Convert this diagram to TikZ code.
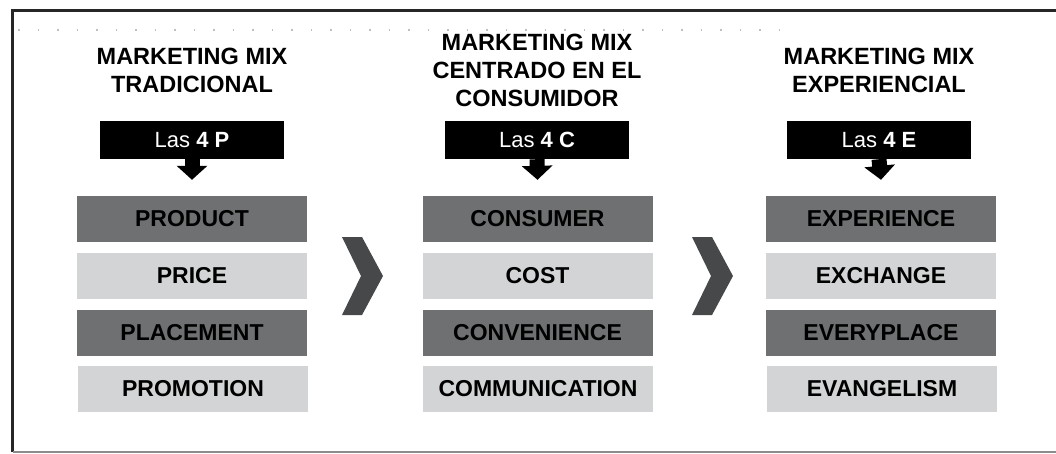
\documentclass[tikz,border=0pt]{standalone}
\usepackage{fontspec}
\setmainfont{Liberation Sans}
\usetikzlibrary{arrows.meta}
\definecolor{mixdark}{RGB}{110,112,114}
\definecolor{mixlight}{RGB}{211,212,213}
\definecolor{chevgray}{RGB}{70,72,74}
\tikzset{
	mixtitle/.style={align=center, font=\fontsize{23.5}{28}\selectfont\bfseries, inner sep=0pt},
	lasbox/.style={fill=black, text=white, minimum width=184pt, minimum height=38pt, inner sep=0pt, font=\fontsize{22}{26}\selectfont},
	itemdark/.style={fill=mixdark, minimum width=230pt, minimum height=46pt, inner sep=0pt, font=\fontsize{23}{27}\selectfont\bfseries},
	itemlight/.style={itemdark, fill=mixlight},
	downarrow/.style={line width=15pt, -{Triangle[width=30pt,length=14pt]}},
}
\begin{document}
\begin{tikzpicture}[x=1pt,y=-1pt]
		%%%%% FRAME %%%%%
		\useasboundingbox (0,0) rectangle (1056,453);
		\draw[line width=3.5pt, black!85] (12.5,451.5) -- (12.5,10.5) -- (1056,10.5);
		\draw[line width=2pt, black!45] (12.5,451.5) -- (1056,451.5);
		\draw[line width=1.5pt, black!25, dash pattern=on 1.5pt off 18pt] (18,30) -- (780,30);
		
		%%%%% TRADICIONAL %%%%%
		\node[mixtitle] (titleP) at (192,70) {MARKETING MIX\\TRADICIONAL};
		\node[lasbox] (lasP) at (192,140) {Las \textbf{4 P}};
		\node[itemdark] (product) at (192,219) {PRODUCT};
		\node[itemlight] (price) at (192,276) {PRICE};
		\node[itemdark] (placement) at (192,333) {PLACEMENT};
		\node[itemlight] (promotion) at (193,389) {PROMOTION};
		\draw[downarrow] (lasP.south) -- ([yshift=16pt]product.north);
		
		\fill[chevgray] (342,237) -- (362,237) -- (383,276) -- (362,315) -- (342,315) -- (361,276) -- cycle;
		
		%%%%% CONSUMIDOR %%%%%
		\node[mixtitle] (titleC) at (537,70) {MARKETING MIX\\CENTRADO EN EL\\CONSUMIDOR};
		\node[lasbox] (lasC) at (537,140) {Las \textbf{4 C}};
		\node[itemdark] (consumer) at (537.5,219) {CONSUMER};
		\node[itemlight] (cost) at (537.5,276) {COST};
		\node[itemdark] (convenience) at (537.5,333) {CONVENIENCE};
		\node[itemlight] (communication) at (538,389) {COMMUNICATION};
		\draw[downarrow] (lasC.south) -- ([yshift=16pt]consumer.north);
		
		\fill[chevgray] (692,237) -- (712,237) -- (733,276) -- (712,315) -- (692,315) -- (711,276) -- cycle;
		
		%%%%% EXPERIENCIAL %%%%%
		\node[mixtitle] (titleE) at (879,70) {MARKETING MIX\\EXPERIENCIAL};
		\node[lasbox] (lasE) at (879,140) {Las \textbf{4 E}};
		\node[itemdark] (experience) at (881,219) {EXPERIENCE};
		\node[itemlight] (exchange) at (881,276) {EXCHANGE};
		\node[itemdark] (everyplace) at (881,333) {EVERYPLACE};
		\node[itemlight] (evangelism) at (882,389) {EVANGELISM};
		\draw[downarrow] (lasE.south) -- ([yshift=16pt]experience.north);
		
		%%%%% END %%%%%
	\end{tikzpicture}
\end{document}
